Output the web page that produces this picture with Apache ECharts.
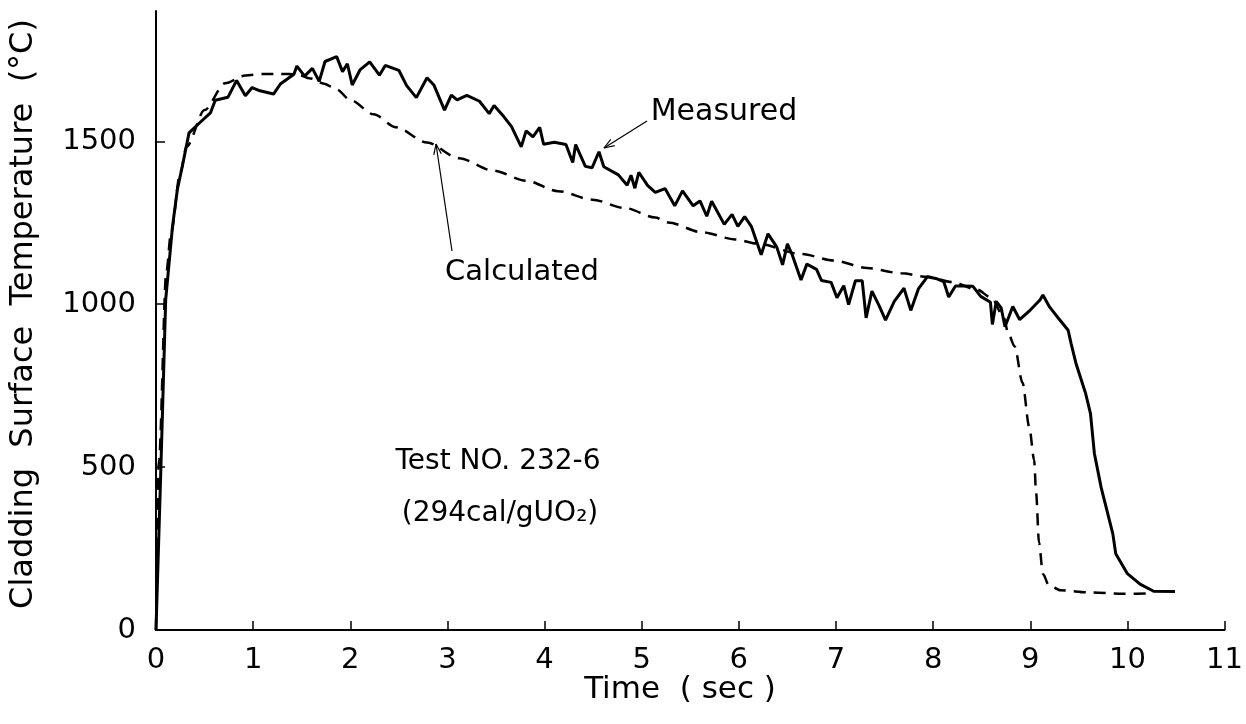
<!DOCTYPE html>
<html>
<head>
<meta charset="utf-8">
<title>Cladding Surface Temperature - Test NO. 232-6</title>
<script src="https://cdn.jsdelivr.net/npm/echarts@6.0.0/dist/echarts.min.js"></script>
<style>
  html, body { margin: 0; padding: 0; background: #fff; }
  #chart { width: 1246px; height: 724px; }
</style>
</head>
<body>
<div id="chart"></div>
<script>
// measured trace (sec, degC)
const measuredTime = [0, 0.05, 0.10, 0.17, 0.22, 0.27, 0.34, 0.45, 0.56, 0.61,
  0.74, 0.83, 0.92, 0.99, 1.07, 1.21, 1.28, 1.42, 1.45, 1.53,
  1.61, 1.68, 1.74, 1.86, 1.92, 1.97, 2.02, 2.10, 2.20, 2.30,
  2.36, 2.50, 2.58, 2.68, 2.79, 2.86, 2.97, 3.04, 3.10, 3.20,
  3.33, 3.43, 3.48, 3.58, 3.66, 3.76, 3.81, 3.88, 3.95, 3.99,
  4.10, 4.22, 4.29, 4.32, 4.42, 4.49, 4.56, 4.61, 4.76, 4.85,
  4.89, 4.93, 4.97, 5.06, 5.14, 5.24, 5.34, 5.42, 5.53, 5.60,
  5.67, 5.72, 5.85, 5.93, 5.99, 6.06, 6.13, 6.23, 6.30, 6.39,
  6.45, 6.50, 6.55, 6.64, 6.70, 6.80, 6.85, 6.95, 7.01, 7.08,
  7.13, 7.20, 7.27, 7.31, 7.37, 7.44, 7.51, 7.60, 7.70, 7.77,
  7.85, 7.94, 8.04, 8.11, 8.16, 8.23, 8.31, 8.41, 8.49, 8.59,
  8.61, 8.65, 8.70, 8.74, 8.82, 8.89, 9.00, 9.10, 9.13, 9.20,
  9.29, 9.39, 9.42, 9.47, 9.57, 9.62, 9.66, 9.73, 9.85, 9.88,
  10.00, 10.13, 10.27, 10.49]
const measuredTemp = [0, 494, 1015, 1239, 1352, 1422, 1526, 1557, 1587, 1626,
  1635, 1687, 1640, 1665, 1655, 1645, 1676, 1706, 1731, 1700,
  1724, 1684, 1745, 1760, 1714, 1738, 1673, 1719, 1744, 1703,
  1733, 1718, 1671, 1634, 1695, 1673, 1596, 1642, 1627, 1641,
  1623, 1585, 1610, 1576, 1545, 1483, 1532, 1514, 1543, 1491,
  1497, 1490, 1435, 1490, 1423, 1419, 1468, 1422, 1397, 1365,
  1396, 1356, 1405, 1365, 1343, 1355, 1302, 1348, 1302, 1317,
  1270, 1316, 1245, 1276, 1239, 1269, 1238, 1152, 1216, 1176,
  1121, 1185, 1151, 1074, 1123, 1107, 1073, 1067, 1020, 1057,
  999, 1072, 1072, 958, 1040, 998, 951, 1009, 1049, 981,
  1048, 1084, 1078, 1069, 1022, 1056, 1056, 1055, 1024, 1006,
  938, 1009, 989, 931, 993, 953, 982, 1013, 1028, 991,
  957, 920, 880, 819, 726, 664, 542, 437, 295, 234,
  173, 141, 119, 118]

// calculated curve (dashed)
const calcTime = [0, 0.03, 0.106, 0.155, 0.25, 0.315, 0.50, 0.71, 0.92, 1.11,
  1.28, 1.45, 1.59, 1.73, 1.86, 2.00, 2.24, 2.47, 2.79, 3.12,
  3.47, 3.81, 4.14, 4.49, 4.83, 5.14, 5.27, 5.62, 5.96, 6.19,
  6.64, 6.98, 7.32, 7.67, 7.94, 8.20, 8.45, 8.60, 8.72, 8.78,
  8.84, 8.92, 8.99, 9.04, 9.06, 9.09, 9.13, 9.19, 9.31, 9.62,
  9.96, 10.27]
const calcTemp = [0, 520, 1098, 1220, 1404, 1484, 1596, 1678, 1702, 1707,
  1707, 1706, 1693, 1677, 1659, 1627, 1583, 1543, 1496, 1448,
  1410, 1379, 1347, 1321, 1295, 1266, 1251, 1221, 1199, 1186,
  1154, 1134, 1111, 1095, 1084, 1068, 1045, 1020, 965, 905,
  870, 759, 623, 522, 421, 268, 173, 138, 122, 115,
  111, 113]

const yTicks = [0, 500, 1000, 1500]

const font = 'DejaVu Sans'
const ink = '#000'

const chart = echarts.init(document.getElementById('chart'))

function zip(xs, ys) {
  return xs.map((x, i) => [x, ys[i]])
}

// thin annotation arrow with an open head at (x2, y2)
function arrow(x1, y1, x2, y2) {
  const a = Math.atan2(y1 - y2, x1 - x2)
  const len = 11
  const spread = 0.35
  const style = { stroke: ink, lineWidth: 1.2 }
  return {
    type: 'group',
    children: [
      { type: 'line', shape: { x1, y1, x2, y2 }, style },
      { type: 'line', shape: { x1: x2, y1: y2, x2: x2 + len * Math.cos(a + spread), y2: y2 + len * Math.sin(a + spread) }, style },
      { type: 'line', shape: { x1: x2, y1: y2, x2: x2 + len * Math.cos(a - spread), y2: y2 + len * Math.sin(a - spread) }, style }
    ]
  }
}

function label(text, x, y, size, rotation) {
  return {
    type: 'text',
    x, y,
    rotation: rotation || 0,
    style: {
      text,
      font: `${size}px "${font}"`,
      fill: ink,
      align: 'center',
      verticalAlign: 'middle'
    }
  }
}

const option = {
  backgroundColor: '#fff',
  animation: false,
  grid: { left: 156, top: 11, width: 1075, height: 619 },
  xAxis: {
    type: 'value',
    min: 0,
    max: 11,
    interval: 1,
    axisLine: { lineStyle: { color: ink, width: 2 } },
    axisTick: { inside: true, length: 9, lineStyle: { color: ink, width: 1.5 } },
    axisLabel: { color: ink, fontFamily: font, fontSize: 29, margin: 16 },
    splitLine: { show: false }
  },
  yAxis: {
    type: 'value',
    min: 0,
    max: 1900,
    interval: 500,
    axisLine: { show: true, lineStyle: { color: ink, width: 2 } },
    axisTick: { show: true, inside: true, length: 9, customValues: yTicks, lineStyle: { color: ink, width: 1.5 } },
    axisLabel: {
      color: ink,
      fontFamily: font,
      fontSize: 29,
      margin: 20,
      customValues: yTicks,
      formatter: v => String(v)
    },
    splitLine: { show: false }
  },
  series: [
    {
      name: 'Calculated',
      type: 'line',
      data: zip(calcTime, calcTemp),
      showSymbol: false,
      smooth: 0.3,
      smoothMonotone: 'x',
      lineStyle: { color: ink, width: 2.5, type: [12, 8] },
      z: 2
    },
    {
      name: 'Measured',
      type: 'line',
      data: zip(measuredTime, measuredTemp),
      showSymbol: false,
      lineStyle: { color: ink, width: 3 },
      z: 3
    }
  ],
  graphic: [
    label('Cladding  Surface  Temperature  (°C)', 24, 314, 32, Math.PI / 2),
    label('Time  ( sec )', 680, 690, 31),
    label('Measured', 724, 112, 30),
    arrow(647, 121, 604, 148),
    label('Calculated', 522, 272, 29),
    arrow(452, 251, 436, 144),
    label('Test NO. 232-6', 498, 462, 28),
    label('(294cal/gUO₂)', 500, 514, 28)
  ]
}

chart.setOption(option)
</script>
</body>
</html>
